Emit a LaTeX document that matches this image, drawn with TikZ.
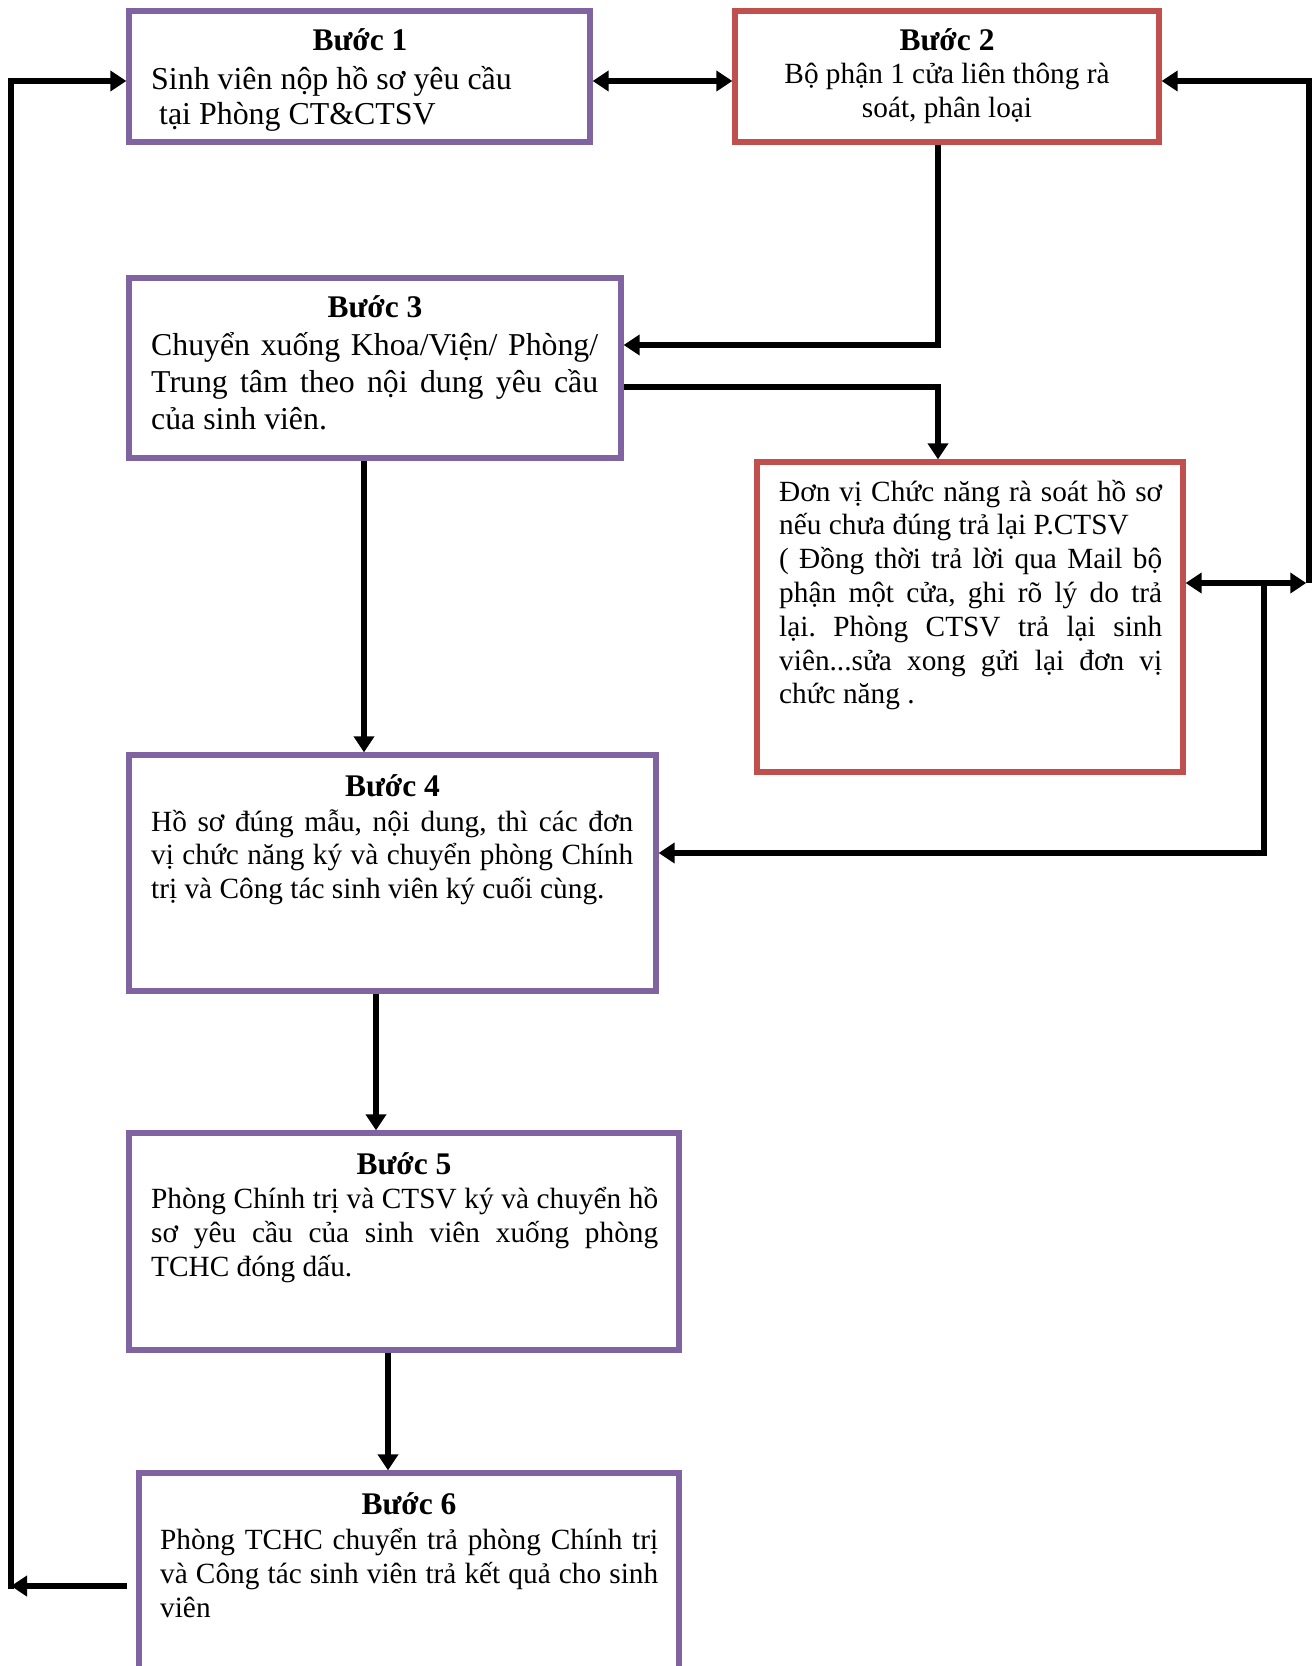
\documentclass[tikz,border=0pt]{standalone}
\usepackage{fontspec}
\setmainfont{Liberation Serif}
\usetikzlibrary{arrows.meta}
\definecolor{boxpurple}{HTML}{8064A2}
\definecolor{boxred}{HTML}{C0504D}
\frenchspacing
\newcommand\bodylines[3]{\vtop{\hsize=#1\relax\baselineskip=#2\relax\parindent=0pt\parskip=0pt\relax\frenchspacing #3}}
\newcommand\jln[1]{\makebox[\hsize][s]{#1}\par}
\newcommand\lastln[1]{#1\par}
\tikzset{
  conn/.style={line width=5.5pt, black},
  arr/.style={conn, -{Triangle[length=16pt,width=20pt]}},
  dblarr/.style={conn, {Triangle[length=16pt,width=20pt]}-{Triangle[length=16pt,width=20pt]}},
  pbox/.style={draw=boxpurple, line width=5.3pt, rectangle, inner sep=0pt},
  rbox/.style={draw=boxred, line width=5.3pt, rectangle, inner sep=0pt},
  title/.style={anchor=base, inner sep=0pt, font=\fontsize{31.5}{36}\selectfont\bfseries},
  body/.style={anchor=base west, inner sep=0pt, font=\fontsize{29.3}{34}\selectfont},
  cbody/.style={anchor=base, inner sep=0pt, font=\fontsize{29.3}{34}\selectfont},
}
\begin{document}
\begin{tikzpicture}[x=1pt,y=-1pt]
\useasboundingbox (0,0) rectangle (1314,1666);
\clip (0,0) rectangle (1314,1666);
% boxes
\node[pbox, minimum width=461pt, minimum height=131pt] (b1) at (359.5,76.5) {};
\node[rbox, minimum width=424pt, minimum height=131pt] (b2) at (947,76.5) {};
\node[pbox, minimum width=492pt, minimum height=180pt] (b3) at (375,368) {};
\node[rbox, minimum width=426pt, minimum height=310pt] (bD) at (970,617) {};
\node[pbox, minimum width=527pt, minimum height=236pt] (b4) at (392.5,873) {};
\node[pbox, minimum width=550pt, minimum height=217pt] (b5) at (404,1241.5) {};
\node[pbox, minimum width=540pt, minimum height=327pt] (b6) at (409,1636.5) {};
% texts
\node[title] (h1) at (360,50) {Bước 1};
\node[body, font=\fontsize{31.9}{35}\selectfont] (t1) at (151,89) {\bodylines{440pt}{35pt}{%
\lastln{Sinh viên nộp hồ sơ yêu cầu}
\lastln{\hspace*{8pt}tại Phòng CT\&CTSV}}};
\node[title] (h2) at (947,50) {Bước 2};
\node[cbody] (t2) at (947,83) {\bodylines{400pt}{34pt}{\centering
Bộ phận 1 cửa liên thông rà\par soát, phân loại\par}};
\node[title] (h3) at (375,317) {Bước 3};
\node[body, font=\fontsize{31.8}{37}\selectfont] (t3) at (151,355) {\bodylines{447pt}{37pt}{%
\jln{Chuyển xuống Khoa/Viện/ Phòng/}
\jln{Trung tâm theo nội dung yêu cầu}
\lastln{của sinh viên.}}};
\node[body] (tD) at (779,501) {\bodylines{383pt}{33.8pt}{%
\jln{Đơn vị Chức năng rà soát hồ sơ}
\lastln{nếu chưa đúng trả lại P.CTSV}
\jln{( Đồng thời trả lời qua Mail bộ}
\jln{phận một cửa, ghi rõ lý do trả}
\jln{lại. Phòng CTSV trả lại sinh}
\jln{viên...sửa xong gửi lại đơn vị}
\lastln{chức năng .}}};
\node[title] (h4) at (392.5,796) {Bước 4};
\node[body] (t4) at (151,831) {\bodylines{482pt}{33.5pt}{%
\jln{Hồ sơ đúng mẫu, nội dung, thì các đơn}
\jln{vị chức năng ký và chuyển phòng Chính}
\lastln{trị và Công tác sinh viên ký cuối cùng.}}};
\node[title] (h5) at (404,1174) {Bước 5};
\node[body] (t5) at (151,1208) {\bodylines{507pt}{34pt}{%
\jln{Phòng Chính trị và CTSV ký và chuyển hồ}
\jln{sơ yêu cầu của sinh viên xuống phòng}
\lastln{TCHC đóng dấu.}}};
\node[title] (h6) at (409,1514) {Bước 6};
\node[body] (t6) at (160,1549) {\bodylines{498pt}{34pt}{%
\jln{Phòng TCHC chuyển trả phòng Chính trị}
\jln{và Công tác sinh viên trả kết quả cho sinh}
\lastln{viên}}};
% coordinates
\coordinate (L1) at (11,81);
\coordinate (L6) at (11,1589);
\coordinate (S6) at (127,1586);
\coordinate (R1) at (1309,81);
\coordinate (R2) at (1309,583);
\coordinate (B1) at (1264,583);
\coordinate (B2) at (1264,853);
\coordinate (C1) at (938,345);
\coordinate (C2) at (938,387);
\coordinate (V3) at (364,0);
\coordinate (V4) at (376,0);
\coordinate (V5) at (388,0);
% connectors
\draw[arr] (S6) -- (S6 -| L6);
\draw[arr] (L6) -- (L1) -- (b1.west |- L1);
\draw[dblarr] (b1.east |- L1) -- (b2.west |- L1);
\draw[arr] (R2) -- (R1) -- (b2.east |- R1);
\draw[dblarr] (bD.east |- R2) -- ([xshift=-2.75pt]R2);
\draw[arr] (B1) -- (B2) -- (b4.east |- B2);
\draw[arr] (b2.south -| C1) -- (C1) -- (b3.east |- C1);
\draw[arr] (b3.east |- C2) -- (C2) -- (bD.north -| C2);
\draw[arr] (b3.south -| V3) -- (b4.north -| V3);
\draw[arr] (b4.south -| V4) -- (b5.north -| V4);
\draw[arr] (b5.south -| V5) -- (b6.north -| V5);
\end{tikzpicture}
\end{document}
